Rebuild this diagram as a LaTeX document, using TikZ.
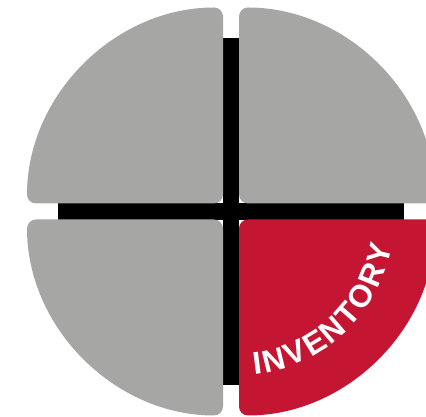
\documentclass[tikz,border=0pt]{standalone}
\usepackage{fontspec}
\setsansfont{Liberation Sans}
\usetikzlibrary{calc,decorations.text}
\definecolor{softgray}{RGB}{166,166,165}
\definecolor{deepred}{RGB}{196,22,51}
\tikzset{
  every node/.style={font=\sffamily},
  quarter/.style={fill=softgray, rounded corners=9pt},
  bar/.style={fill=black},
  arc text/.style={decorate, decoration={text along path, text align=center,
    text={|\sffamily\bfseries\fontsize{31.5}{31.5}\selectfont\fontdimen2\font=2.3pt\fontdimen3\font=0pt\fontdimen4\font=0pt\color{white}|I N V E N T O R Y}}}
}

\begin{document}
\begin{tikzpicture}[x=1pt,y=1pt,line cap=round,line join=round]
  \useasboundingbox (0,0) rectangle (426,417);
  \clip (0,0) rectangle (426,417);
  \coordinate (c) at (231,205.5);
  \coordinate (br) at (239,197);

  % cross behind the quarters
  \fill[bar] (223,32) rectangle (239,379);
  \fill[bar] (58,197) rectangle (404,214);

  \foreach \ang/\col in {0/softgray, 90/softgray, 180/softgray, 270/deepred} {
    \begin{scope}[shift={(c)}, rotate=\ang, shift={(8,8)}]
      \fill[quarter, fill=\col] (0,0) -- (196,0)
        arc[start angle=0, end angle=90, radius=196] -- cycle;
    \end{scope}
  }

  \path[arc text] ($(br)+(-88:155)$) arc[start angle=-88, end angle=-6, radius=155];
\end{tikzpicture}
\end{document}
